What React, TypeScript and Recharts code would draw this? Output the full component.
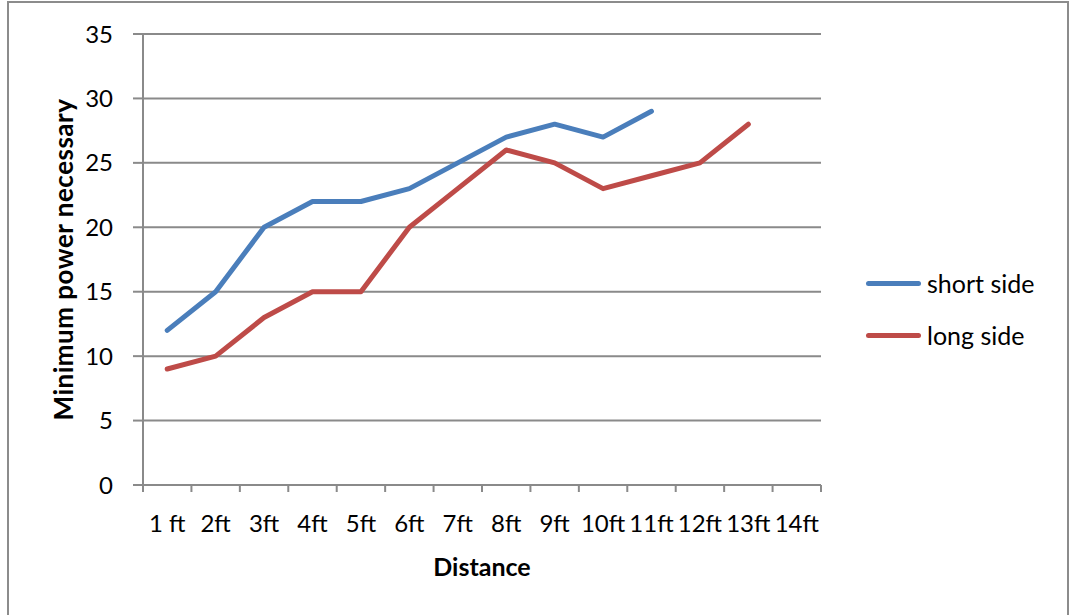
import React from 'react'
import { LineChart, Line, XAxis, YAxis, CartesianGrid } from 'recharts'

const distances = ['1 ft', '2ft', '3ft', '4ft', '5ft', '6ft', '7ft', '8ft', '9ft', '10ft', '11ft', '12ft', '13ft', '14ft']
const shortSide = [12, 15, 20, 22, 22, 23, 25, 27, 28, 27, 29]
const longSide = [9, 10, 13, 15, 15, 20, 23, 26, 25, 23, 24, 25, 28]
const yTicks = [0, 5, 10, 15, 20, 25, 30, 35]

const series = [
  { key: 'short', name: 'short side', color: '#4a7ebb' },
  { key: 'long', name: 'long side', color: '#be4b48' },
]

// x runs 0..14 so tick marks sit between categories; points sit at the middle of each slot
const data = distances.map((d, i) => ({
  x: i + 0.5,
  short: shortSide[i] ?? null,
  long: longSide[i] ?? null,
}))
const xTicks = distances.map((_, i) => i).concat(distances.length)

const W = 1070
const H = 615
const margin = { top: 34, right: 249, left: 0, bottom: 30 }
const yAxisWidth = 143
const slotHalf = (W - margin.right - margin.left - yAxisWidth) / distances.length / 2

const gridColor = '#8a8a8a'
const font = 'Lato, "Open Sans", sans-serif'

const DistanceTick = (props: any) => {
  const { x, y, payload } = props
  const i = payload.value
  if (i >= distances.length) return null
  return (
    <text x={x + slotHalf} y={y} dy="0.71em" textAnchor="middle" fontSize={24} fill="#000" fontFamily={font}>
      {distances[i]}
    </text>
  )
}

export default function App() {
  return (
    <div style={{ position: 'absolute', left: 0, top: 0, width: W, height: H, overflow: 'hidden', background: '#fff', fontFamily: font }}>
      <LineChart width={W} height={H} data={data} margin={margin}>
        <CartesianGrid vertical={false} stroke={gridColor} strokeWidth={2} />
        <XAxis
          type="number"
          dataKey="x"
          domain={[0, distances.length]}
          ticks={xTicks}
          interval={0}
          height={100}
          tickSize={7}
          tickMargin={23}
          tick={<DistanceTick />}
          axisLine={{ stroke: gridColor, strokeWidth: 2 }}
          tickLine={{ stroke: gridColor, strokeWidth: 2 }}
          label={{ value: 'Distance', position: 'insideBottom', offset: 9, style: { fontSize: 25, fontWeight: 700, fill: '#000', fontFamily: font } }}
        />
        <YAxis
          domain={[0, 35]}
          ticks={yTicks}
          interval={0}
          width={yAxisWidth}
          tickSize={10}
          tickMargin={20}
          tick={{ fontSize: 24, fill: '#000', fontFamily: font }}
          axisLine={{ stroke: gridColor, strokeWidth: 2 }}
          tickLine={{ stroke: gridColor, strokeWidth: 2 }}
          label={{ value: 'Minimum power necessary', angle: -90, position: 'center', dx: -8, style: { fontSize: 26, fontWeight: 700, letterSpacing: 0.5, fill: '#000', fontFamily: font } }}
        />
        {series.map(s => (
          <Line
            key={s.key}
            type="linear"
            dataKey={s.key}
            name={s.name}
            stroke={s.color}
            strokeWidth={5}
            strokeLinecap="round"
            strokeLinejoin="round"
            dot={false}
            isAnimationActive={false}
          />
        ))}
      </LineChart>

      {/* legend, right of the plot */}
      {series.map((s, i) => (
        <div key={s.key} style={{ position: 'absolute', left: 866, top: 284 + i * 52 - 16, height: 30, display: 'flex', alignItems: 'center' }}>
          <div style={{ width: 55, height: 5, borderRadius: 3, background: s.color }} />
          <span style={{ marginLeft: 6, fontSize: 25, color: '#000' }}>{s.name}</span>
        </div>
      ))}

      {/* chart area frame */}
      <div style={{ position: 'absolute', left: 7, top: 1, width: 1062, height: 700, border: '2px solid #8c8c8c', boxSizing: 'border-box', pointerEvents: 'none' }} />
    </div>
  )
}
